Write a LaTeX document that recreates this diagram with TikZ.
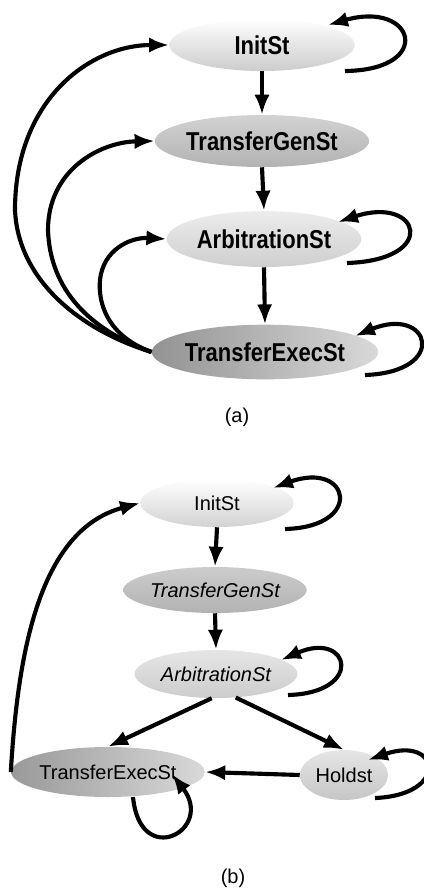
\documentclass[tikz,border=0pt]{standalone}
\usepackage{fontspec}
\setmainfont{Liberation Sans}
\newfontfamily\condbold[FakeStretch=0.85]{Liberation Sans}
\usetikzlibrary{arrows.meta,shapes.geometric,calc}
\begin{document}
\begin{tikzpicture}[x=0.75pt,y=-0.75pt,
  st/.style={ellipse,inner sep=0pt},
  arr/.style={line width=3.1pt,-{Latex[length=15pt,width=11.5pt]}},
  fa/.style={font=\condbold\bfseries\fontsize{19.4}{20}\selectfont},
  fb/.style={font=\fontsize{15}{16}\selectfont},
  fbi/.style={font=\itshape\fontsize{15}{16}\selectfont},
  captext/.style={font=\fontsize{15}{16}\selectfont}]
\useasboundingbox (0,0) rectangle (424,894);
% ---------- (a) ----------
\node[st,fa,minimum width=139pt,minimum height=39pt,top color=white,bottom color=gray!40] (ia) at (262,45) {InitSt};
\node[st,fa,minimum width=145pt,minimum height=39pt,top color=gray!35,bottom color=gray!60] (ga) at (262,141) {TransferGenSt};
\node[st,fa,minimum width=146pt,minimum height=42pt,top color=gray!15,bottom color=gray!38] (aa) at (264,239) {ArbitrationSt};
\node[st,fa,minimum width=168pt,minimum height=41pt,left color=gray!85,right color=gray!30] (ea) at (265,352) {TransferExecSt};
\draw[arr] (ia.south) -- (ga.north);
\draw[arr] (ga.south) -- (aa.north);
\draw[arr] (aa.south) -- (ea.north);
\draw[arr] ($(ia)+(83,26)$) .. controls ($(ia)+(173,25)$) and ($(ia)+(153,-45)$) .. ($(ia)+(66,-20)$);
\draw[arr] ($(aa)+(83,24)$) .. controls ($(aa)+(176,21)$) and ($(aa)+(156,-44)$) .. ($(aa)+(74,-17)$);
\draw[arr] ($(ea)+(100,23)$) .. controls ($(ea)+(185,20)$) and ($(ea)+(165,-47)$) .. ($(ea)+(90,-16)$);
\draw[arr] (ea.west) .. controls (80,330) and (18,280) .. (15,210) .. controls (15,100) and (90,45) .. (ia.west);
\draw[arr] (ea.west) .. controls (90,330) and (50,290) .. (48,230) .. controls (48,170) and (100,142) .. (ga.west);
\draw[arr] (ea.west) .. controls (105,335) and (98,300) .. (100,280) .. controls (103,250) and (130,237) .. (aa.west);
\node[captext] (la) at (237,417) {(a)};
% ---------- (b) ----------
\node[st,fb,minimum width=115pt,minimum height=36pt,top color=white,bottom color=gray!35] (ib) at (217,503) {InitSt};
\node[st,fbi,minimum width=123pt,minimum height=34.5pt,top color=gray!40,bottom color=gray!60] (gb) at (215,590) {TransferGenSt};
\node[st,fbi,minimum width=122pt,minimum height=36pt,top color=gray!20,bottom color=gray!40] (ab) at (216,674) {ArbitrationSt};
\node[st,fb,minimum width=140pt,minimum height=37.5pt,left color=gray!80,right color=gray!30] (eb) at (108,772) {TransferExecSt};
\node[st,fb,minimum width=66pt,minimum height=37.5pt,top color=gray!20,bottom color=gray!45] (hb) at (344,775) {Holdst};
\draw[arr] (ib.south) -- (gb.north);
\draw[arr] (gb.south) -- (ab.north);
\draw[arr] (ab.-100) -- (eb.north);
\draw[arr] (ab.-50) -- (hb.north);
\draw[arr] (hb.west) -- (eb.east);
\draw[arr] ($(ib)+(68,26)$) .. controls ($(ib)+(148,24)$) and ($(ib)+(133,-43)$) .. ($(ib)+(56,-15)$);
\draw[arr] ($(ab)+(72,21)$) .. controls ($(ab)+(149,19)$) and ($(ab)+(134,-44)$) .. ($(ab)+(65,-14)$);
\draw[arr] ($(hb)+(31,23)$) .. controls ($(hb)+(106,20)$) and ($(hb)+(96,-40)$) .. ($(hb)+(24,-15)$);
\draw[arr] ($(eb)+(25,25)$) .. controls ($(eb)+(32,98)$) and ($(eb)+(107,58)$) .. ($(eb)+(64,2)$);
\draw[arr] (eb.west) .. controls (18,650) and (40,530) .. (ib.west);
\node[captext] (lb) at (233,878) {(b)};
\end{tikzpicture}
\end{document}
